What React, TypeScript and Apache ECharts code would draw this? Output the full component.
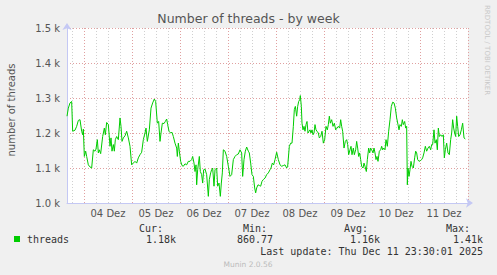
import React, { useEffect, useRef } from "react";
import * as echarts from "echarts";

// Hours since 2025-12-03 00:00 where the week view starts / ends
const viewStartHour = 15.5;
const viewEndHour = 216;

// [hours since view start, threads]
const threadSamples: [number, number][] = [
  [0,1248],[0.67,1271],[1.5,1286],[2.33,1290],[2.83,1205],[4,1208],[4.83,1219],[5.67,1236],[6.5,1238],[7.33,1205],[7.83,1195],[8.17,1211],[8.67,1133],[9.33,1148],[9.83,1133],[10.67,1109],[11.5,1103],[12.33,1100],[13.17,1152],[14,1148],[14.5,1154],[15.17,1181],[15.67,1143],[16.17,1152],[16.83,1141],[17.83,1190],[18.67,1214],[19.17,1195],[19.83,1230],[20.67,1224],[21.5,1162],[22,1186],[22.5,1148],[23.17,1167],[23.67,1148],[24.17,1181],[24.83,1190],[25.67,1181],[26.5,1243],[27,1219],[27.5,1176],[28.17,1186],[29,1192],[29.83,1205],[30.67,1186],[31.5,1162],[32.33,1109],[33.17,1114],[34,1119],[34.83,1114],[35.67,1129],[36.5,1138],[37.33,1145],[38.17,1181],[39,1200],[39.5,1214],[40.17,1176],[41.17,1209],[42,1271],[42.83,1286],[43.67,1297],[44.33,1290],[45.17,1228],[45.83,1233],[46.5,1176],[47,1200],[47.67,1228],[48.5,1227],[49.17,1233],[49.83,1240],[50.33,1224],[51,1205],[51.83,1200],[52.5,1202],[53.17,1190],[54,1171],[54.83,1157],[55.17,1133],[55.67,1171],[56.17,1148],[56.83,1119],[57.5,1107],[58.17,1105],[59,1112],[59.83,1109],[60.67,1119],[61.5,1119],[62.33,1124],[62.83,1133],[63.5,1114],[64,1090],[64.5,1109],[64.83,1052],[65.33,1095],[66.17,1133],[66.67,1090],[67.33,1081],[67.83,1057],[68.33,1095],[69,1097],[69.83,1081],[70.67,1019],[71.17,1067],[71.83,1086],[72.33,1095],[72.83,1100],[73.5,1048],[74,1095],[74.83,1100],[75.33,1048],[76,1057],[76.67,1019],[77.17,1057],[77.67,1086],[78.17,1152],[79,1148],[79.83,1133],[80.67,1105],[81.5,1076],[82.33,1081],[83.17,1124],[84,1133],[84.83,1138],[85.67,1140],[86.5,1152],[87.33,1143],[87.83,1076],[88.5,1124],[89.17,1148],[89.83,1160],[90.67,1148],[91.17,1143],[91.83,1114],[92.5,1081],[93.17,1076],[93.83,1043],[94.33,1029],[94.83,1043],[95.5,1052],[96.17,1050],[96.83,1048],[97.5,1062],[98.17,1067],[99,1071],[99.83,1081],[100.67,1086],[101.5,1095],[102,1100],[102.67,1114],[103.33,1109],[104,1124],[104.83,1145],[105.67,1124],
  [106.5,1109],[107.33,1105],[108.17,1107],[109,1109],[109.83,1100],[110.33,1105],[111.17,1162],[111.83,1171],[112.5,1171],[113.17,1219],[113.67,1267],[114.17,1276],[114.83,1248],[115.33,1276],[115.83,1290],[116.33,1295],[116.67,1307],[117.17,1276],[117.5,1228],[118,1209],[118.5,1219],[119,1205],[119.5,1224],[120,1233],[120.5,1200],[121,1205],[121.5,1209],[122,1200],[122.5,1209],[123,1195],[123.5,1200],[124,1224],[124.5,1209],[125,1205],[125.67,1200],[126.17,1186],[126.83,1190],[127.5,1205],[128.17,1171],[128.83,1181],[129.5,1219],[130.17,1209],[130.67,1224],[131.17,1248],[131.67,1228],[132.33,1238],[133,1219],[133.67,1228],[134.33,1209],[135,1214],[135.67,1219],[136.33,1214],[136.83,1238],[137.33,1219],[137.83,1205],[138.5,1157],[139.17,1176],[139.83,1181],[140.33,1167],[140.83,1138],[141.5,1152],[142,1162],[142.5,1138],[143.17,1157],[143.67,1138],[144.33,1152],[144.83,1176],[145.33,1157],[145.83,1133],[146.33,1143],[146.83,1124],[147.33,1105],[148,1100],[148.5,1114],[149,1105],[149.67,1090],[150.17,1124],[150.83,1157],[151.33,1143],[151.83,1157],[152.33,1152],[153,1143],[153.5,1157],[154,1143],[154.5,1124],[155,1133],[155.5,1119],[156.17,1148],[156.83,1152],[157.33,1162],[157.83,1152],[158.33,1157],[159,1152],[159.5,1181],[160.17,1162],[160.83,1205],[161.5,1238],[162.17,1276],[162.83,1288],[163.5,1286],[164.17,1271],[164.83,1243],[165.5,1224],[166,1209],[166.5,1224],[167.17,1219],[167.67,1238],[168.17,1224],[168.83,1233],[169.33,1214],[169.83,1219],[170.17,1052],[170.5,1100],[171,1076],[171.5,1095],[172,1119],[172.5,1105],[173.17,1100],[173.83,1129],[174.33,1148],[174.83,1143],[175.33,1124],[176,1119],[176.67,1121],[177.33,1124],[177.83,1129],[178.5,1143],[179.17,1162],[179.83,1148],[180.5,1157],[181.17,1162],[181.83,1152],[182.33,1167],[182.83,1167],[183.5,1209],[184,1171],[184.67,1181],[185.17,1152],[185.67,1214],[186.17,1190],[186.83,1195],[187.5,1190],[188.17,1195],[188.67,1129],[189.17,1152],[189.83,1171],[190.5,1143],[191.17,1138],[191.83,1181],[192.33,1200],[192.83,1238],[193.33,1214],[193.83,1200],[194.33,1190],[194.83,1248],[195.33,1219],[195.83,1190],[196.5,1195],[197.17,1209],[197.83,1228],[198.5,1186],[199.17,1183],
];

const dayLabels = ["04 Dez", "05 Dez", "06 Dez", "07 Dez", "08 Dez", "09 Dez", "10 Dez", "11 Dez"];
const dayStartHours = [24, 48, 72, 96, 120, 144, 168, 192, 216];
const dayNoonHours = [36, 60, 84, 108, 132, 156, 180, 204];
const sixHourLines = [18, 30, 36, 42, 54, 60, 66, 78, 84, 90, 102, 108, 114, 126, 132, 138, 150, 156, 162, 174, 180, 186, 198, 204, 210];

const yMin = 1000;
const yMax = 1500;
const yStep = 100;

const seriesName = "threads";
const titleText = "Number of threads - by week";
const yAxisName = "number of threads";
const statLabels = ["Cur:", "Min:", "Avg:", "Max:"];
const statValues = ["1.18k", "860.77", "1.16k", "1.41k"];
const lastUpdate = "Last update: Thu Dec 11 23:30:01 2025";
const footer = "Munin 2.0.56";
const sideText = "RRDTOOL / TOBI OETIKER";

export default function App() {
  const ref = useRef<HTMLDivElement>(null);
  useEffect(() => {
    if (!ref.current) return;
    const chart = echarts.init(ref.current, null, { renderer: "svg" });
    const mono = "DejaVu Sans Mono";
    const sans = "DejaVu Sans";
    const labelRight = [163, 267, 368, 470];
    const valueRight = [176, 273, 380, 483];
    const graphics: any[] = [];
    statLabels.forEach((t, i) => {
      graphics.push({
        type: "text", x: labelRight[i], y: 228,
        style: { text: t, fill: "#333", font: `10px '${mono}'`, textAlign: "right", textVerticalAlign: "middle" },
      });
      graphics.push({
        type: "text", x: valueRight[i], y: 239.5,
        style: { text: statValues[i], fill: "#333", font: `10px '${mono}'`, textAlign: "right", textVerticalAlign: "middle" },
      });
    });
    graphics.push({
      type: "text", x: 483, y: 251.5,
      style: { text: lastUpdate, fill: "#333", font: `10px '${mono}'`, textAlign: "right", textVerticalAlign: "middle" },
    });
    graphics.push({
      type: "text", x: 248, y: 264,
      style: { text: footer, fill: "#bbb", font: `7.5px '${sans}'`, textAlign: "center", textVerticalAlign: "middle" },
    });
    graphics.push({
      type: "text", x: 487, y: 5, rotation: -Math.PI / 2,
      style: { text: sideText, fill: "#c8c8c8", font: `7px '${sans}'`, textAlign: "left", textVerticalAlign: "middle" },
    });
    graphics.push({
      type: "text", x: 11, y: 110, rotation: Math.PI / 2,
      style: { text: yAxisName, fill: "#555", font: `10px '${sans}'`, textAlign: "center", textVerticalAlign: "middle" },
    });

    const axisColor = "#c4c8f4";
    chart.setOption({
      animation: false,
      backgroundColor: "#f0f0f0",
      title: {
        text: titleText,
        left: "center",
        top: 12,
        padding: 0,
        textStyle: { fontFamily: sans, fontSize: 12.5, fontWeight: "normal", color: "#555" },
      },
      legend: {
        left: 14,
        top: 234,
        padding: 0,
        icon: "rect",
        itemWidth: 6,
        itemHeight: 6,
        data: [seriesName],
        textStyle: { fontFamily: mono, fontSize: 10, color: "#333", padding: [0, 0, 0, 2] },
      },
      grid: {
        left: 67, top: 28, width: 401, height: 175,
        show: true, backgroundColor: "#ffffff", borderWidth: 0, containLabel: false,
      },
      xAxis: [
        {
          type: "value",
          min: viewStartHour,
          max: viewEndHour,
          axisLine: {
            show: true, lineStyle: { color: axisColor, width: 1 },
            symbol: ["none", "arrow"], symbolSize: [7, 7], symbolOffset: [0, 5],
          },
          axisTick: { show: false, customValues: sixHourLines },
          splitLine: { show: true, lineStyle: { color: "#d0d0d0", type: [1, 2], width: 1 } },
          axisLabel: {
            show: true,
            customValues: dayNoonHours,
            formatter: (v: number) => dayLabels[dayNoonHours.indexOf(v)] ?? "",
            fontFamily: sans, fontSize: 10, color: "#555", margin: 5,
          },
        },
        {
          type: "value",
          min: viewStartHour,
          max: viewEndHour,
          position: "bottom",
          axisLine: { show: false },
          axisTick: { show: false, customValues: dayStartHours },
          axisLabel: { show: false },
          splitLine: { show: true, lineStyle: { color: "#e0a0a0", type: [1, 2], width: 1 } },
        },
      ],
      yAxis: {
        type: "value",
        min: yMin,
        max: yMax,
        interval: yStep,
        axisLine: {
          show: true, lineStyle: { color: axisColor, width: 1 },
          symbol: ["none", "arrow"], symbolSize: [7, 7], symbolOffset: [0, 5],
        },
        axisTick: { show: false },
        splitLine: { show: true, lineStyle: { color: "#e0a0a0", type: [1, 2], width: 1 } },
        axisLabel: {
          formatter: (v: number) => (v / 1000).toFixed(1) + " k",
          fontFamily: sans, fontSize: 10, color: "#555", margin: 7,
        },
      },
      series: [
        {
          name: seriesName,
          type: "line",
          xAxisIndex: 0,
          showSymbol: false,
          symbol: "none",
          color: "#00cc00",
          lineStyle: { color: "#00cc00", width: 1 },
          data: threadSamples.map(([h, v]) => [viewStartHour + h, v]),
          z: 3,
        },
      ],
      graphic: graphics,
    });
    return () => chart.dispose();
  }, []);
  return (
    <div
      ref={ref}
      style={{ position: "absolute", left: 0, top: 0, width: 497, height: 275 }}
    />
  );
}
